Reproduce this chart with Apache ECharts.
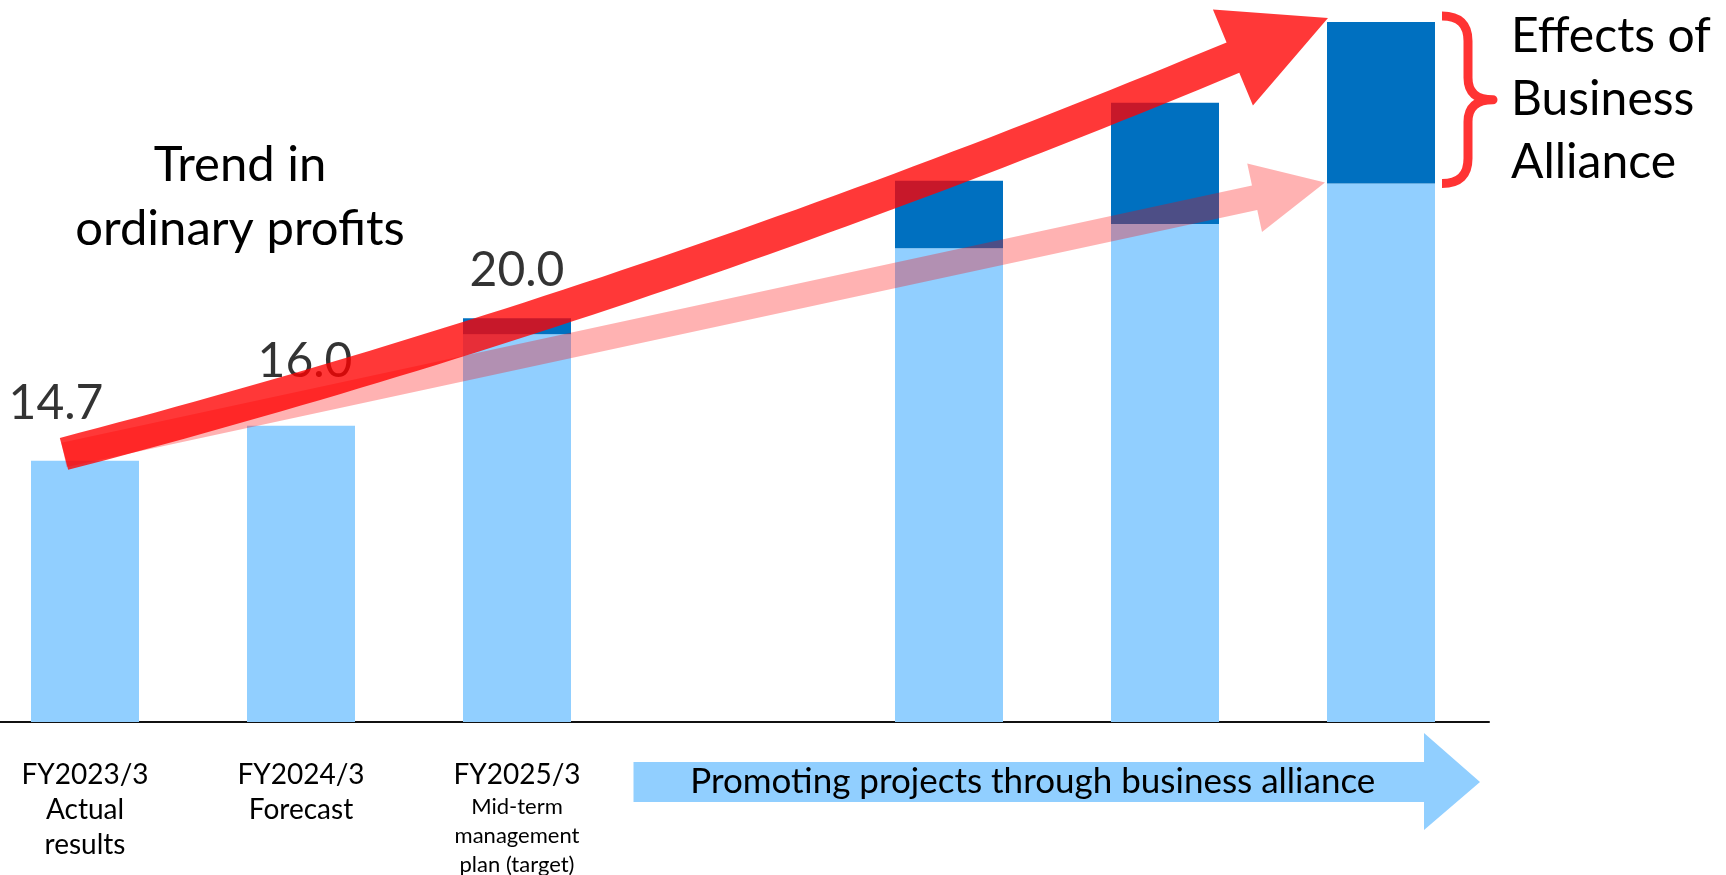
<!DOCTYPE html>
<html>
<head>
<meta charset="utf-8">
<script src="https://cdn.jsdelivr.net/npm/echarts@6/dist/echarts.min.js"></script>
<style>
html,body{margin:0;padding:0;background:#fff;}
#chart{width:1726px;height:875px;}
</style>
</head>
<body>
<div id="chart"></div>
<script>
// ---------- data ----------
const categories = ['FY2023/3', 'FY2024/3', 'FY2025/3', '', '', '', ''];
const categoryNotes = [['Actual', 'results'], ['Forecast'], ['Mid-term', 'management', 'plan (target)'], [], [], [], []];
const baseProfit = [14.7, 16.0, 19.4, null, 22.6, 23.5, 25.0];
const allianceEffect = [0, 0, 0.6, null, 2.5, 4.5, 6.0];
const totalProfit = [14.7, 16.0, 20.0, null, 25.1, 28.0, 31.0];
const valueLabels = ['14.7', '16.0', '20.0'];
const trendTitle = 'Trend in\nordinary profits';
const effectTitle = 'Effects of\nBusiness\nAlliance';
const bannerText = 'Promoting projects through business alliance';

// ---------- styles ----------
const FONT = 'Lato, "Open Sans", "Noto Sans", sans-serif';
const LIGHT = '#91CFFF';
const DARK = '#0070C0';
const noteStyle = ['a', 'a', 'b', 'a', 'a', 'a', 'a'];
const labelOffsets = [[-29, -57], [4, -64], [0, -48]];

const chart = echarts.init(document.getElementById('chart'), null, {renderer: 'canvas'});

function norm(v) { const l = Math.hypot(v[0], v[1]); return [v[0] / l, v[1] / l]; }

function arrowPoints(center, tip, bodyW, headHalf) {
  const left = [], right = [];
  const n = center.length;
  const B = center[n - 1];
  const hd = norm([tip[0] - B[0], tip[1] - B[1]]);
  for (let i = 0; i < n; i++) {
    let d;
    if (i === n - 1) d = hd;
    else {
      const a = center[Math.max(0, i - 1)], b = center[Math.min(n - 1, i + 1)];
      d = norm([b[0] - a[0], b[1] - a[1]]);
    }
    const nx = -d[1], ny = d[0];
    left.push([center[i][0] + nx * bodyW / 2, center[i][1] + ny * bodyW / 2]);
    right.push([center[i][0] - nx * bodyW / 2, center[i][1] - ny * bodyW / 2]);
  }
  const nx = -hd[1], ny = hd[0];
  return left.concat([[B[0] + nx * headHalf, B[1] + ny * headHalf], tip, [B[0] - nx * headHalf, B[1] - ny * headHalf]], right.reverse());
}

function renderTrend(params, api) {
  const b0 = api.coord([0, totalProfit[0]]);
  const pTail = [b0[0] - 21, b0[1] - 6];
  const pEnd = api.coord([6, baseProfit[6]]);
  const pTip = [pEnd[0] - 56, pEnd[1] - 1];
  const pd = norm([pTip[0] - pTail[0], pTip[1] - pTail[1]]);
  const pBase = [pTip[0] - pd[0] * 72, pTip[1] - pd[1] * 72];
  const pink = arrowPoints([pTail, pBase], pTip, 25, 35);

  const rTail = [b0[0] - 21, b0[1] - 7];
  const rEnd = api.coord([6, totalProfit[6]]);
  const rTip = [rEnd[0] - 53, rEnd[1] - 4];
  const hd = norm([96, -40]);
  const rBase = [rTip[0] - hd[0] * 103, rTip[1] - hd[1] * 103];
  const d0 = norm([1, -0.26]);
  const dx = rBase[0] - rTail[0], dy = rBase[1] - rTail[1];
  const det = d0[0] * hd[1] - hd[0] * d0[1];
  const a = (dx * hd[1] - hd[0] * dy) / det;
  const ctrl = [rTail[0] + d0[0] * a, rTail[1] + d0[1] * a];
  const pts = [];
  for (let i = 0; i <= 60; i++) {
    const t = i / 60, u = 1 - t;
    pts.push([u * u * rTail[0] + 2 * u * t * ctrl[0] + t * t * rBase[0],
              u * u * rTail[1] + 2 * u * t * ctrl[1] + t * t * rBase[1]]);
  }
  const red = arrowPoints(pts, rTip, 33, 52);

  const top = api.coord([6, totalProfit[6]]);
  const bot = api.coord([6, baseProfit[6]]);
  const T = top[1] - 6, Bm = bot[1], M = (T + Bm) / 2;
  const L = top[0] + 61, V = top[0] + 87, P = top[0] + 112;
  const brace = 'M' + L + ' ' + T + ' Q' + V + ' ' + T + ' ' + V + ' ' + (T + 25) +
    ' L' + V + ' ' + (M - 22) + ' Q' + V + ' ' + M + ' ' + P + ' ' + M +
    ' Q' + V + ' ' + M + ' ' + V + ' ' + (M + 22) +
    ' L' + V + ' ' + (Bm - 25) + ' Q' + V + ' ' + Bm + ' ' + L + ' ' + Bm;

  return {
    type: 'group',
    children: [
      {type: 'polygon', shape: {points: pink}, style: {fill: 'rgba(255,0,0,0.3)'}},
      {type: 'polygon', shape: {points: red}, style: {fill: 'rgba(255,0,0,0.78)'}},
      {type: 'path', shape: {pathData: brace}, style: {fill: null, stroke: 'rgba(255,0,0,0.8)', lineWidth: 9, lineJoin: 'round'}}
    ]
  };
}

function renderBanner(params, api) {
  const c3 = api.coord([3, 5]);
  const c6 = api.coord([6, 5]);
  const y0 = c3[1];
  const x0 = c3[0] - 99.5, x1 = c6[0] + 43, xt = c6[0] + 99;
  return {
    type: 'group',
    children: [
      {type: 'polygon', shape: {points: [[x0, y0 + 40], [x1, y0 + 40], [x1, y0 + 11], [xt, y0 + 60], [x1, y0 + 108], [x1, y0 + 80], [x0, y0 + 80]]},
       style: {fill: LIGHT}},
      {type: 'text', x: (x0 + x1) / 2 + 4, y: y0 + 60,
       style: {text: bannerText, fontSize: 35, fontFamily: FONT, fill: '#000', align: 'center', verticalAlign: 'middle'}}
    ]
  };
}

const axisLabelsData = categories.map((c, i) => [c].concat(categoryNotes[i]).join('\n'));

const option = {
  animation: false,
  backgroundColor: '#fff',
  grid: {left: -23, right: 237, top: 22, bottom: 153, containLabel: false, outerBoundsMode: 'none'},
  xAxis: {
    type: 'category',
    data: axisLabelsData,
    axisLine: {show: true, lineStyle: {color: '#111', width: 2}},
    axisTick: {show: false},
    splitLine: {show: false},
    axisLabel: {
      interval: 0,
      margin: 35,
      formatter: function (val, idx) {
        const lines = val.split('\n');
        return lines.map((l, k) => '{' + (k === 0 ? 'a' : noteStyle[idx]) + '|' + l + '}').join('\n');
      },
      rich: {
        a: {fontSize: 28, lineHeight: 35, fontFamily: FONT, color: '#000'},
        b: {fontSize: 22, lineHeight: 29, fontFamily: FONT, color: '#000'}
      }
    }
  },
  yAxis: {
    type: 'value', min: 5, max: 31, show: false,
    splitLine: {show: false}
  },
  graphic: [
    {type: 'text', x: 240, y: 133, z: 10,
     style: {text: trendTitle, fontSize: 49, lineHeight: 64, fontFamily: FONT, fill: '#000', align: 'center', verticalAlign: 'top'}},
    {type: 'text', x: 1511, y: 5, z: 10,
     style: {text: effectTitle, fontSize: 48, lineHeight: 63, fontFamily: FONT, fill: '#000', align: 'left', verticalAlign: 'top'}}
  ],
  series: [
    {name: 'Ordinary profits', type: 'bar', stack: 'p', data: baseProfit, barWidth: '50%',
     itemStyle: {color: LIGHT}, z: 2},
    {name: 'Effects of Business Alliance', type: 'bar', stack: 'p', data: allianceEffect, barWidth: '50%',
     itemStyle: {color: DARK}, z: 2},
    {name: 'labels', type: 'scatter', symbolSize: 1, itemStyle: {color: 'transparent'}, z: 3,
     data: valueLabels.map((t, i) => ({value: [i, totalProfit[i]],
       label: {show: true, position: 'inside', formatter: t, offset: labelOffsets[i],
               fontSize: 48, fontFamily: FONT, color: '#000'}})),
     silent: true},
    {name: 'trend', type: 'custom', coordinateSystem: 'cartesian2d', renderItem: renderTrend, data: [[0, 5]], z: 5, silent: true},
    {name: 'banner', type: 'custom', coordinateSystem: 'cartesian2d', renderItem: renderBanner, data: [[0, 5]], z: 5, silent: true}
  ]
};
chart.setOption(option);
</script>
</body>
</html>
